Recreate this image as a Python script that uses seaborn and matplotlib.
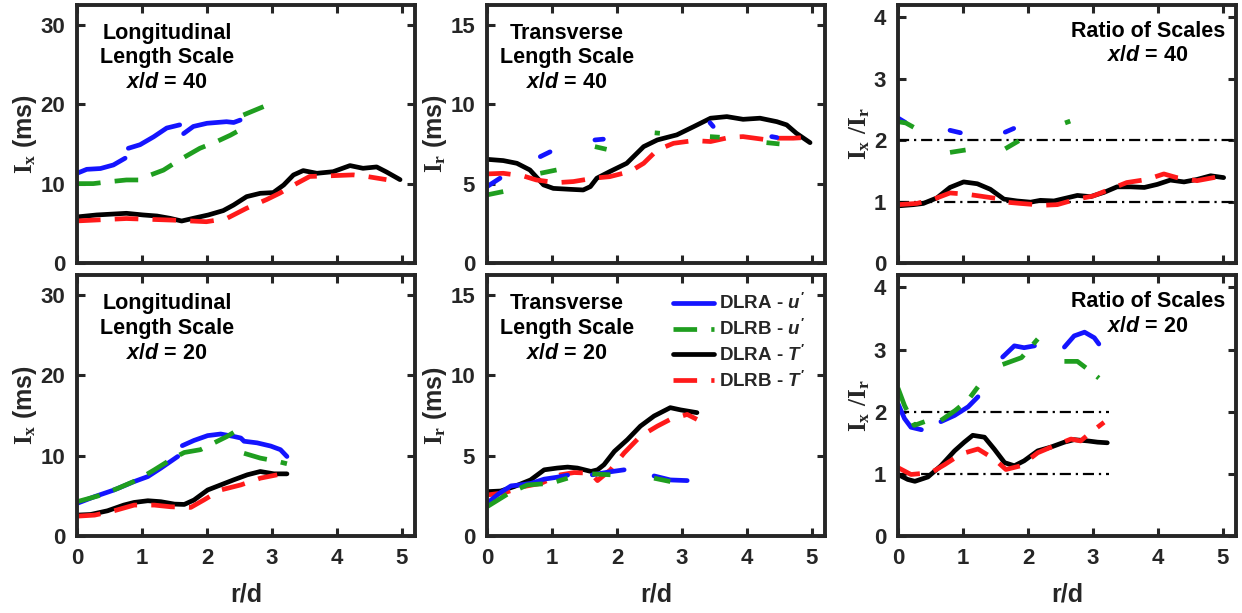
import numpy as np
import pandas as pd
import matplotlib
matplotlib.use("Agg")
import matplotlib.pyplot as plt
from matplotlib.lines import Line2D
import seaborn as sns

nan = np.nan

# ---- series keys and legend text ----
SERIES = ["DLRA_T", "DLRB_T", "DLRA_u", "DLRB_u"]
LEGEND_ORDER = ["DLRA_u", "DLRB_u", "DLRA_T", "DLRB_T"]
LEGEND_TEXT = {
    "DLRA_u": r"DLRA - $\mathit{u}^{\prime}$",
    "DLRB_u": r"DLRB - $\mathit{u}^{\prime}$",
    "DLRA_T": r"DLRA - $\mathit{T}^{\prime}$",
    "DLRB_T": r"DLRB - $\mathit{T}^{\prime}$",
}

# ---- x/d = 40, longitudinal integral scale (ms) ----
long40_DLRA_T_r = [0, 0.30, 0.76, 1.02, 1.23, 1.43, 1.61, 1.79, 2.02, 2.25, 2.41, 2.61, 2.82, 3.02, 3.18, 3.33, 3.48, 3.69, 3.94, 4.2, 4.4, 4.61, 4.76, 4.97]
long40_DLRA_T_v = [5.8, 6.05, 6.26, 6.05, 5.92, 5.63, 5.29, 5.63, 6.05, 6.6, 7.31, 8.36, 8.78, 8.87, 9.83, 11.09, 11.64, 11.3, 11.5, 12.27, 11.93, 12.1, 11.47, 10.5]
long40_DLRB_T_r = [0, 0.76, 1.48, 1.99, 2.3, 2.61, 2.92, 3.12, 3.33, 3.58, 3.94, 4.25, 4.46, 4.76]
long40_DLRB_T_v = [5.3, 5.6, 5.4, 5.2, 5.6, 6.9, 8.0, 8.8, 9.8, 10.9, 11.0, 11.1, 10.9, 10.5]
long40_DLRA_u_r = [0, 0.15, 0.36, 0.56, 0.74, nan, 0.79, 0.97, 1.18, 1.38, 1.58, nan, 1.64, 1.79, 2.0, 2.3, 2.41, 2.51]
long40_DLRA_u_v = [11.3, 11.8, 11.9, 12.35, 13.2, nan, 14.45, 14.9, 15.9, 17.0, 17.4, nan, 16.3, 17.2, 17.6, 17.8, 17.7, 18.0]
long40_DLRB_u_r = [0, 0.25, 0.51, 0.76, 0.97, 1.07, 1.33, 1.58, 1.89, 2.15, 2.36, 2.46, nan, 2.56, 2.87]
long40_DLRB_u_v = [10.0, 10.0, 10.25, 10.46, 10.46, 10.9, 11.7, 13.0, 14.45, 15.3, 16.1, 16.55, nan, 18.65, 19.7]

# ---- x/d = 40, transverse integral scale (ms) ----
trans40_DLRA_T_r = [0, 0.25, 0.46, 0.66, 0.87, 1.02, 1.28, 1.48, 1.59, 1.69, 1.89, 2.15, 2.41, 2.62, 2.92, 3.18, 3.44, 3.69, 3.94, 4.2, 4.46, 4.61, 4.76, 4.97]
trans40_DLRA_T_v = [6.53, 6.45, 6.28, 5.86, 4.92, 4.7, 4.64, 4.6, 4.81, 5.34, 5.76, 6.28, 7.33, 7.75, 8.07, 8.59, 9.12, 9.22, 9.05, 9.12, 8.9, 8.7, 8.17, 7.58]
trans40_DLRB_T_r = [0, 0.25, 0.56, 0.76, 1.07, 1.33, 1.64, 1.89, 2.2, 2.41, 2.62, 2.87, 3.18, 3.44, 3.74, 3.94, 4.25, 4.46, 4.71, 4.97]
trans40_DLRB_T_v = [5.61, 5.65, 5.48, 5.23, 5.06, 5.13, 5.34, 5.44, 5.76, 6.28, 7.12, 7.54, 7.71, 7.65, 7.92, 7.96, 7.79, 7.86, 7.86, 7.92]
trans40_DLRA_u_r = [0, 0.2, nan, 0.82, 0.97, nan, 1.66, 1.79, nan, 3.43, 3.48, nan, 4.38, 4.46]
trans40_DLRA_u_v = [4.81, 5.34, nan, 6.7, 7.0, nan, 7.75, 7.8, nan, 8.84, 8.6, nan, 7.96, 7.9]
trans40_DLRB_u_r = [0, 0.25, nan, 0.82, 1.07, nan, 1.66, 1.84, nan, 2.58, 2.66, nan, 3.43, 3.58, nan, 4.3, 4.5]
trans40_DLRB_u_v = [4.29, 4.5, nan, 5.65, 5.86, nan, 7.33, 7.16, nan, 8.2, 8.17, nan, 7.96, 7.92, nan, 7.58, 7.5]

# ---- x/d = 40, ratio of scales ----
ratio40_DLRA_T_r = [0, 0.24, 0.39, 0.6, 0.8, 1.01, 1.22, 1.42, 1.63, 1.83, 2.04, 2.19, 2.4, 2.6, 2.76, 2.96, 3.17, 3.37, 3.58, 3.79, 3.99, 4.19, 4.4, 4.6, 4.81, 5.01]
ratio40_DLRA_T_v = [0.93, 0.95, 0.97, 1.06, 1.23, 1.32, 1.29, 1.2, 1.04, 1.01, 0.99, 1.02, 1.01, 1.06, 1.1, 1.08, 1.15, 1.24, 1.24, 1.23, 1.28, 1.35, 1.32, 1.36, 1.42, 1.39]
ratio40_DLRB_T_r = [0, 0.29, 0.55, 0.8, 1.06, 1.26, 1.52, 1.67, 1.88, 2.24, 2.45, 2.75, 3.0, 3.26, 3.52, 3.83, 4.09, 4.29, 4.6, 5.01]
ratio40_DLRB_T_v = [0.95, 0.97, 1.04, 1.14, 1.12, 1.09, 1.05, 0.99, 0.97, 0.94, 0.95, 1.04, 1.09, 1.2, 1.31, 1.36, 1.45, 1.39, 1.34, 1.42]
ratio40_DLRA_u_r = [0, 0.11, nan, 0.8, 0.96, nan, 1.65, 1.78]
ratio40_DLRA_u_v = [2.36, 2.29, nan, 2.16, 2.12, nan, 2.13, 2.19]
ratio40_DLRB_u_r = [0, 0.12, 0.24, nan, 0.8, 1.04, nan, 1.65, 1.86, nan, 2.57, 2.65]
ratio40_DLRB_u_v = [2.3, 2.28, 2.21, nan, 1.8, 1.84, nan, 1.86, 1.99, nan, 2.28, 2.31]

# ---- x/d = 20, longitudinal integral scale (ms) ----
long20_DLRA_T_r = [0, 0.21, 0.47, 0.72, 0.88, 1.09, 1.29, 1.5, 1.65, 1.8, 2.01, 2.21, 2.41, 2.62, 2.82, 3.03, 3.23]
long20_DLRA_T_v = [2.6, 2.68, 3.14, 3.85, 4.18, 4.39, 4.27, 3.97, 3.93, 4.48, 5.73, 6.36, 6.99, 7.62, 8.03, 7.74, 7.74]
long20_DLRB_T_r = [0, 0.27, 0.57, 0.88, 1.19, 1.44, 1.75, 1.95, 2.21, 2.52, 2.82, 3.08]
long20_DLRB_T_v = [2.47, 2.6, 3.14, 3.85, 3.85, 3.64, 3.56, 4.48, 5.73, 6.36, 7.2, 7.62]
long20_DLRA_u_r = [0, 0.27, 0.57, 0.88, 1.09, 1.29, 1.55, nan, 1.62, 1.8, 2.01, 2.21, 2.41, 2.52, 2.57, 2.77, 2.98, 3.13, 3.23]
long20_DLRA_u_v = [4.06, 4.9, 5.73, 6.78, 7.4, 8.45, 9.9, nan, 11.25, 11.9, 12.5, 12.7, 12.4, 12.2, 11.8, 11.6, 11.2, 10.75, 9.9]
long20_DLRB_u_r = [0, 0.32, 0.63, 0.93, 1.19, 1.44, 1.65, 1.9, 2.11, 2.31, 2.41, nan, 2.57, 2.82, 3.08, 3.23]
long20_DLRB_u_v = [4.27, 4.98, 5.94, 6.99, 8.24, 9.5, 10.4, 10.75, 11.6, 12.4, 12.9, nan, 10.3, 9.7, 9.3, 9.0]

# ---- x/d = 20, transverse integral scale (ms) ----
trans20_DLRA_T_r = [0, 0.21, 0.42, 0.67, 0.88, 1.08, 1.24, 1.39, 1.6, 1.7, 1.8, 1.96, 2.16, 2.36, 2.57, 2.82, 2.98, 3.23]
trans20_DLRA_T_v = [2.76, 2.8, 3.08, 3.49, 4.12, 4.23, 4.29, 4.23, 4.02, 4.12, 4.44, 5.27, 6.0, 6.84, 7.47, 7.99, 7.85, 7.68]
trans20_DLRB_T_r = [0, 0.27, 0.57, 0.83, 1.13, 1.34, 1.6, 1.7, 1.9, 2.11, 2.36, 2.62, 2.82, 3.08, 3.23]
trans20_DLRB_T_v = [2.55, 2.7, 3.08, 3.28, 3.81, 3.95, 3.91, 3.45, 4.12, 5.17, 6.21, 6.84, 7.26, 7.57, 7.26]
trans20_DLRA_u_r = [0, 0.19, 0.37, 0.55, 0.68, 0.88, 1.08, 1.24, nan, 1.62, 1.9, 2.11, nan, 2.57, 2.82, 3.08]
trans20_DLRA_u_v = [2.03, 2.66, 3.12, 3.2, 3.28, 3.54, 3.66, 3.79, nan, 3.81, 4.0, 4.12, nan, 3.74, 3.49, 3.45]
trans20_DLRB_u_r = [0, 0.32, 0.62, 0.98, 1.24, nan, 1.62, 1.9, nan, 2.57, 2.82]
trans20_DLRB_u_v = [1.82, 2.62, 3.18, 3.28, 3.6, nan, 3.87, 3.81, nan, 3.6, 3.39]

# ---- x/d = 20, ratio of scales ----
ratio20_DLRA_T_r = [0, 0.15, 0.26, 0.46, 0.66, 0.87, 1.02, 1.15, 1.33, 1.48, 1.64, 1.79, 1.94, 2.15, 2.35, 2.56, 2.71, 2.92, 3.07, 3.22]
ratio20_DLRA_T_v = [0.99, 0.91, 0.88, 0.95, 1.13, 1.37, 1.51, 1.62, 1.59, 1.4, 1.18, 1.13, 1.21, 1.37, 1.43, 1.51, 1.55, 1.53, 1.51, 1.5]
ratio20_DLRB_T_r = [0, 0.2, 0.51, 0.72, 0.97, 1.23, 1.48, 1.66, 1.89, 2.15, 2.4, 2.66, 2.81, 2.97, 3.17]
ratio20_DLRB_T_v = [1.1, 0.99, 1.02, 1.15, 1.32, 1.4, 1.24, 1.07, 1.13, 1.34, 1.45, 1.56, 1.53, 1.67, 1.83]
ratio20_DLRA_u_r = [0, 0.1, 0.2, 0.36, nan, 0.66, 0.87, 1.08, 1.23, nan, 1.61, 1.79, 1.94, 2.1, nan, 2.56, 2.71, 2.87, 3.02, 3.09]
ratio20_DLRA_u_v = [2.13, 1.89, 1.75, 1.71, nan, 1.84, 1.94, 2.08, 2.24, nan, 2.88, 3.06, 3.03, 3.06, nan, 3.04, 3.22, 3.28, 3.19, 3.09]
ratio20_DLRB_u_r = [0, 0.1, 0.25, 0.41, nan, 0.66, 0.88, 1.08, 1.23, nan, 1.61, 1.9, 2.15, nan, 2.56, 2.76, 3.0, 3.09]
ratio20_DLRB_u_v = [2.38, 2.1, 1.78, 1.84, nan, 1.86, 2.02, 2.19, 2.4, nan, 2.76, 2.87, 3.17, nan, 2.81, 2.81, 2.62, 2.54]

# reference ratio levels and how far they extend in r/d for each station
ref_levels = [1, 2]
ref_end = {"40": 5.2, "20": 3.25}

# ---- panel setup ----
panel_titles = {
    "long": "Longitudinal\nLength Scale\n$\\mathit{x/d}$ = {st}",
    "trans": "Transverse\nLength Scale\n$\\mathit{x/d}$ = {st}",
    "ratio": "Ratio of Scales\n$\\mathit{x/d}$ = {st}",
}
ylabels = {
    "long": r"$\mathbf{I_x}$ (ms)",
    "trans": r"$\mathbf{I_r}$ (ms)",
    "ratio": r"$\mathbf{I_x\ /I_r}$",
}
yticks = {"long": [0, 10, 20, 30], "trans": [0, 5, 10, 15], "ratio": [0, 1, 2, 3, 4]}
ylims = {"long": (0, 32.5), "trans": (0, 16.25), "ratio": (0, 4.2)}
xticks = [0, 1, 2, 3, 4, 5]

palette = {"DLRA_T": "#000000", "DLRB_T": "#ff1a1a", "DLRA_u": "#1414ff", "DLRB_u": "#1f9e1f"}
dash_map = {"DLRA_T": "", "DLRB_T": (5, 3), "DLRA_u": "", "DLRB_u": (5, 3)}

# ---- assemble a long-form table, one unit per unbroken run ----
rows = []
g = globals()
for st in ["40", "20"]:
    for kind in ["long", "trans", "ratio"]:
        for s in SERIES:
            rr = np.asarray(g[f"{kind}{st}_{s}_r"], dtype=float)
            vv = np.asarray(g[f"{kind}{st}_{s}_v"], dtype=float)
            seg = np.cumsum(np.isnan(vv))
            for r_, v_, k in zip(rr, vv, seg):
                if not np.isnan(v_):
                    rows.append({"station": st, "kind": kind, "series": s,
                                 "unit": f"{s}_{k}", "r": r_, "value": v_})
df = pd.DataFrame(rows)

# ---- styling ----
sns.set_theme(style="ticks")
INK = "#262626"
plt.rcParams.update({
    "font.family": ["Liberation Sans", "DejaVu Sans"],
    "font.weight": "bold",
    "axes.labelweight": "bold",
    "axes.edgecolor": INK,
    "axes.labelcolor": INK,
    "xtick.color": INK,
    "ytick.color": INK,
    "mathtext.fontset": "custom",
    "mathtext.rm": "Liberation Sans:bold",
    "mathtext.it": "Liberation Sans:italic:bold",
    "mathtext.bf": "Liberation Serif:bold",
})

LW = 3.4
fig = plt.figure(figsize=(12.42, 6.13), dpi=100)
W, H = 1242, 613
col_left = [77, 487, 898]
ax_w = 338
row_box = {"40": (5, 263), "20": (275, 536)}

for st in ["40", "20"]:
    top, bot = row_box[st]
    for ci, kind in enumerate(["long", "trans", "ratio"]):
        ax = fig.add_axes([col_left[ci] / W, 1 - bot / H, ax_w / W, (bot - top) / H])
        if kind == "ratio":
            ax.hlines(ref_levels, 0, ref_end[st], colors="black", linewidth=1.6,
                      linestyles=[(0, (5, 2.2, 1, 2.2))], zorder=1)
        sub = df[(df["station"] == st) & (df["kind"] == kind)]
        sns.lineplot(data=sub, x="r", y="value", hue="series", style="series",
                     units="unit", estimator=None, sort=False,
                     hue_order=SERIES, style_order=SERIES,
                     palette=palette, dashes=dash_map, linewidth=LW,
                     legend=False, ax=ax, zorder=2)
        ax.set_xlim(0, 5.2)
        ax.set_ylim(*ylims[kind])
        ax.set_xticks(xticks)
        ax.set_yticks(yticks[kind])
        ax.tick_params(direction="in", top=True, right=True, length=6, width=2.2,
                       labelsize=16)
        ax.tick_params(axis="y", pad=8.5)
        ax.tick_params(axis="x", pad=9)
        for sp in ax.spines.values():
            sp.set_linewidth(2.8)
            sp.set_color(INK)
            sp.set_visible(True)
        ax.set_ylabel(ylabels[kind], fontsize=18, labelpad=1)
        if st == "40":
            ax.set_xlabel("")
            ax.tick_params(labelbottom=False)
        else:
            ax.set_xlabel("r/d", fontsize=18, labelpad=9)

        title = panel_titles[kind].replace("{st}", st)
        if kind == "ratio":
            ax.text(0.74, 0.85, title, transform=ax.transAxes, ha="center",
                    va="center", fontsize=15.5, fontweight="bold",
                    linespacing=1.22, color="black")
        else:
            xc = 0.266 if kind == "long" else 0.237
            ax.text(xc, 0.795, title, transform=ax.transAxes, ha="center",
                    va="center", fontsize=15.5, fontweight="bold",
                    linespacing=1.22, color="black")

        if st == "20" and kind == "trans":
            handles = []
            for s in LEGEND_ORDER:
                h = Line2D([], [], color=palette[s], linewidth=LW)
                if dash_map[s]:
                    h.set_dashes(dash_map[s])
                handles.append(h)
            ax.legend(handles, [LEGEND_TEXT[s] for s in LEGEND_ORDER],
                      loc="upper left", bbox_to_anchor=(0.55, 0.93),
                      frameon=False, borderpad=0, borderaxespad=0,
                      handlelength=2.2, handletextpad=0.25, labelspacing=0.3,
                      prop={"size": 13.5, "weight": "bold"})

fig.savefig("out.png", dpi=100, facecolor="white")
